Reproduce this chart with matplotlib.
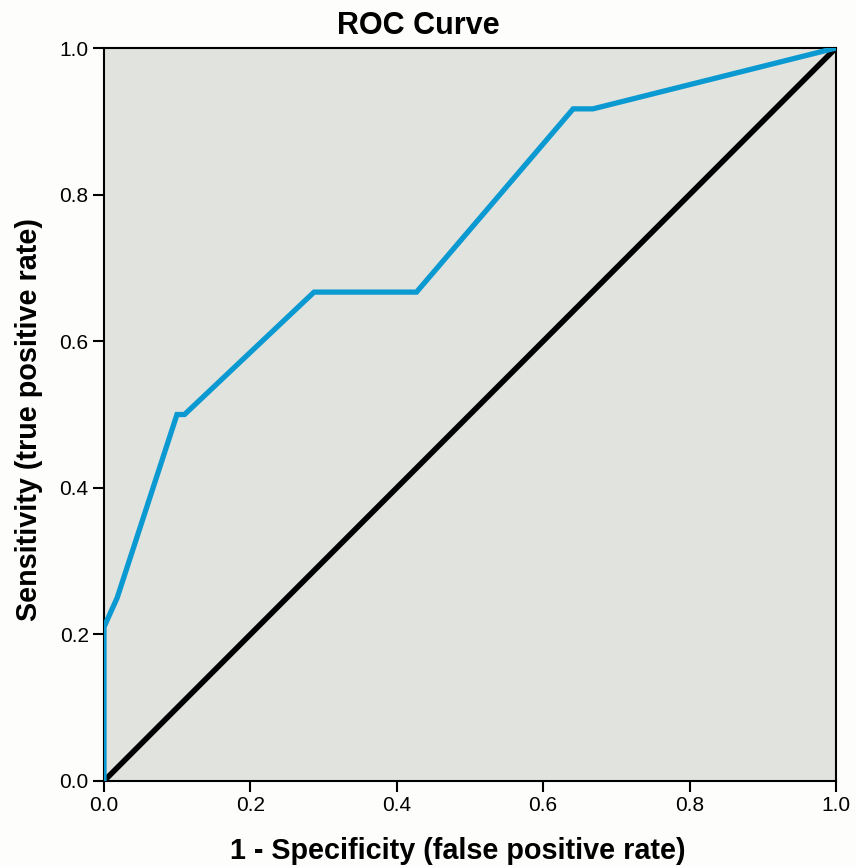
import matplotlib
matplotlib.use("Agg")
import matplotlib.pyplot as plt

# ROC curve points
fpr = [0.0, 0.0, 0.018, 0.0997, 0.11, 0.287, 0.427, 0.641, 0.668, 1.0]
tpr = [0.0, 0.21, 0.25, 0.5, 0.5, 0.667, 0.667, 0.917, 0.917, 1.0]
ref_x = [0.0, 1.0]
ref_y = [0.0, 1.0]
ticks = [0.0, 0.2, 0.4, 0.6, 0.8, 1.0]

plt.rcParams["font.family"] = ["Liberation Sans", "DejaVu Sans"]

fig = plt.figure(figsize=(8.56, 8.67), dpi=100, facecolor="#fdfdfb")
ax = fig.add_axes([0.1215, 0.0992, 0.855, 0.8454])
ax.set_facecolor("#e1e3df")

ax.plot(ref_x, ref_y, color="black", lw=4, solid_capstyle="butt", zorder=3)
ax.plot(fpr, tpr, color="#0a99d0", lw=3.8, solid_joinstyle="miter", zorder=4)

ax.set_xlim(0, 1)
ax.set_ylim(0, 1)
ax.set_xticks(ticks)
ax.set_yticks(ticks)
ax.set_xticklabels([f"{t:.1f}" for t in ticks])
ax.set_yticklabels([f"{t:.1f}" for t in ticks])
ax.tick_params(length=8, width=1.5, labelsize=15, pad=3)
for s in ax.spines.values():
    s.set_linewidth(1.5)

ax.set_title("ROC Curve", fontsize=22, fontweight="bold", pad=10, x=0.429)
ax.set_xlabel("1 - Specificity (false positive rate)", fontsize=20.7, fontweight="bold", labelpad=16)
ax.set_ylabel("Sensitivity (true positive rate)", fontsize=20.7, fontweight="bold", labelpad=12)
ax.xaxis.label.set_x(0.484)
ax.yaxis.label.set_y(0.4925)

fig.savefig("out.png", dpi=100, facecolor=fig.get_facecolor())
